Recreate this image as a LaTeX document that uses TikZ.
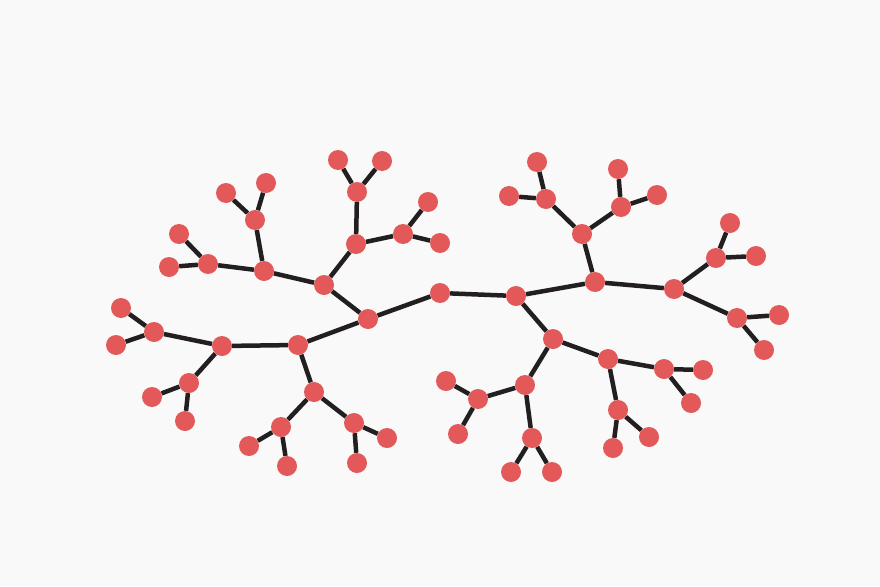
\documentclass[tikz,border=0pt]{standalone}
\definecolor{nodered}{RGB}{227,89,89}
\definecolor{edgeblack}{RGB}{35,31,32}
\definecolor{paper}{RGB}{249,249,249}
\tikzset{
  dot/.style={circle, fill=nodered, minimum size=20pt, inner sep=0pt},
  edge/.style={draw=edgeblack, line width=4.5pt}
}
\begin{document}
\begin{tikzpicture}[x=1pt, y=-1pt]
				\fill [paper] (0,0) rectangle (880,586);
				\useasboundingbox (0,0) rectangle (880,586);
				% root and its two halves
				\node (r) at (440,293) [dot] {};
				\node (a) at (368,319) [dot] {};
				\node (b) at (516,296) [dot] {};
				% left half
				\node (a1) at (324,285) [dot] {};
				\node (a2) at (298,345) [dot] {};
				\node (a11) at (264,271) [dot] {};
				\node (a12) at (356,244) [dot] {};
				\node (a111) at (208,264) [dot] {};
				\node (a1111) at (179,234) [dot] {};
				\node (a1112) at (169,267) [dot] {};
				\node (a112) at (255,220) [dot] {};
				\node (a1121) at (226,193) [dot] {};
				\node (a1122) at (266,183) [dot] {};
				\node (a121) at (357,192) [dot] {};
				\node (a1211) at (338,160) [dot] {};
				\node (a1212) at (382,161) [dot] {};
				\node (a122) at (403,234) [dot] {};
				\node (a1221) at (428,202) [dot] {};
				\node (a1222) at (440,243) [dot] {};
				\node (a21) at (222,346) [dot] {};
				\node (a22) at (314,392) [dot] {};
				\node (a211) at (154,332) [dot] {};
				\node (a2111) at (121,308) [dot] {};
				\node (a2112) at (116,345) [dot] {};
				\node (a212) at (189,383) [dot] {};
				\node (a2121) at (152,397) [dot] {};
				\node (a2122) at (185,421) [dot] {};
				\node (a221) at (281,427) [dot] {};
				\node (a2211) at (249,446) [dot] {};
				\node (a2212) at (287,466) [dot] {};
				\node (a222) at (354,423) [dot] {};
				\node (a2221) at (387,438) [dot] {};
				\node (a2222) at (357,463) [dot] {};
				% right half
				\node (b1) at (595,282) [dot] {};
				\node (b2) at (553,339) [dot] {};
				\node (b11) at (582,234) [dot] {};
				\node (b12) at (674,289) [dot] {};
				\node (b111) at (546,199) [dot] {};
				\node (b1111) at (537,162) [dot] {};
				\node (b1112) at (509,196) [dot] {};
				\node (b112) at (621,207) [dot] {};
				\node (b1121) at (618,169) [dot] {};
				\node (b1122) at (657,195) [dot] {};
				\node (b121) at (716,258) [dot] {};
				\node (b1211) at (730,223) [dot] {};
				\node (b1212) at (756,256) [dot] {};
				\node (b122) at (737,318) [dot] {};
				\node (b1221) at (779,315) [dot] {};
				\node (b1222) at (764,350) [dot] {};
				\node (b21) at (525,385) [dot] {};
				\node (b22) at (608,359) [dot] {};
				\node (b211) at (478,399) [dot] {};
				\node (b2111) at (446,381) [dot] {};
				\node (b2112) at (458,434) [dot] {};
				\node (b212) at (532,438) [dot] {};
				\node (b2121) at (511,472) [dot] {};
				\node (b2122) at (552,472) [dot] {};
				\node (b221) at (664,369) [dot] {};
				\node (b2211) at (703,370) [dot] {};
				\node (b2212) at (691,403) [dot] {};
				\node (b222) at (618,410) [dot] {};
				\node (b2221) at (613,448) [dot] {};
				\node (b2222) at (649,437) [dot] {};
				% branches
				\draw [edge] (r) -- (a) (r) -- (b);
				\draw [edge] (a) -- (a1) (a) -- (a2);
				\draw [edge] (a1) -- (a11) (a1) -- (a12);
				\draw [edge] (a11) -- (a111) (a11) -- (a112);
				\draw [edge] (a111) -- (a1111) (a111) -- (a1112);
				\draw [edge] (a112) -- (a1121) (a112) -- (a1122);
				\draw [edge] (a12) -- (a121) (a12) -- (a122);
				\draw [edge] (a121) -- (a1211) (a121) -- (a1212);
				\draw [edge] (a122) -- (a1221) (a122) -- (a1222);
				\draw [edge] (a2) -- (a21) (a2) -- (a22);
				\draw [edge] (a21) -- (a211) (a21) -- (a212);
				\draw [edge] (a211) -- (a2111) (a211) -- (a2112);
				\draw [edge] (a212) -- (a2121) (a212) -- (a2122);
				\draw [edge] (a22) -- (a221) (a22) -- (a222);
				\draw [edge] (a221) -- (a2211) (a221) -- (a2212);
				\draw [edge] (a222) -- (a2221) (a222) -- (a2222);
				\draw [edge] (b) -- (b1) (b) -- (b2);
				\draw [edge] (b1) -- (b11) (b1) -- (b12);
				\draw [edge] (b11) -- (b111) (b11) -- (b112);
				\draw [edge] (b111) -- (b1111) (b111) -- (b1112);
				\draw [edge] (b112) -- (b1121) (b112) -- (b1122);
				\draw [edge] (b12) -- (b121) (b12) -- (b122);
				\draw [edge] (b121) -- (b1211) (b121) -- (b1212);
				\draw [edge] (b122) -- (b1221) (b122) -- (b1222);
				\draw [edge] (b2) -- (b21) (b2) -- (b22);
				\draw [edge] (b21) -- (b211) (b21) -- (b212);
				\draw [edge] (b211) -- (b2111) (b211) -- (b2112);
				\draw [edge] (b212) -- (b2121) (b212) -- (b2122);
				\draw [edge] (b22) -- (b221) (b22) -- (b222);
				\draw [edge] (b221) -- (b2211) (b221) -- (b2212);
				\draw [edge] (b222) -- (b2221) (b222) -- (b2222);
			\end{tikzpicture}
\end{document}
